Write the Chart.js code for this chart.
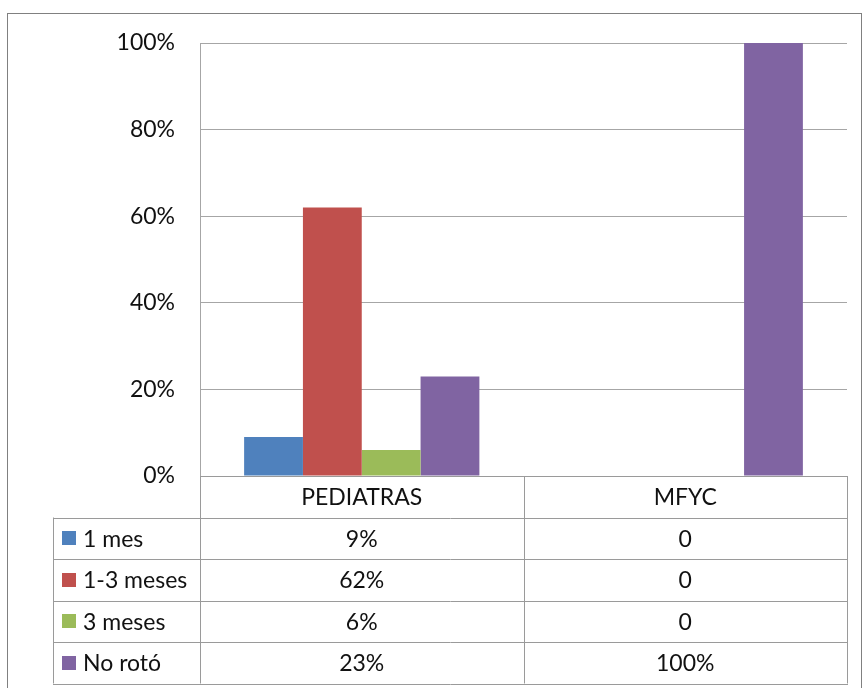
<!DOCTYPE html>
<html>
<head>
<meta charset="utf-8">
<script src="https://cdn.jsdelivr.net/npm/chart.js@4/dist/chart.umd.min.js"></script>
<style>
  html, body { margin: 0; padding: 0; background: #ffffff; }
  #wrap { width: 862px; height: 688px; position: relative; }
</style>
</head>
<body>
<div id="wrap"><canvas id="c" width="862" height="688"></canvas></div>
<script>
// Categories and series (percent values)
const categories = ['PEDIATRAS', 'MFYC'];
const seriesNames = ['1 mes', '1-3 meses', '3 meses', 'No rotó'];
const mes1 = [9, 0];
const meses1a3 = [62, 0];
const meses3 = [6, 0];
const noRoto = [23, 100];
const seriesColors = ['#4F81BD', '#C0504D', '#9BBB59', '#8064A2'];
const yTicks = [0, 20, 40, 60, 80, 100];

const seriesValues = [mes1, meses1a3, meses3, noRoto];
const FONT = 'Lato, "Open Sans", sans-serif';
const FONT_SIZE = 23;
const TEXT = '#111111';
const LINE = '#9a9a9a';

function fmt(v) { return v === 0 ? '0' : v + '%'; }

// Draws the data table (category header, legend keys and values) under the plot
const dataTable = {
  id: 'dataTable',
  afterDraw(chart) {
    const ctx = chart.ctx;
    const x = chart.scales.x;
    const area = chart.chartArea;
    const left = 53, rowH = 41.5;
    const top = area.bottom;
    const nRows = seriesNames.length;
    const colEdges = [area.left];
    categories.forEach((c, i) => {
      const half = (x.getPixelForValue(1) - x.getPixelForValue(0)) / 2;
      colEdges.push(x.getPixelForValue(i) + half);
    });
    const bottom = top + rowH * (nRows + 1);

    ctx.save();
    ctx.strokeStyle = LINE;
    ctx.lineWidth = 1;
    const h = (y, x0, x1) => { ctx.beginPath(); ctx.moveTo(x0, Math.round(y) + 0.5); ctx.lineTo(x1, Math.round(y) + 0.5); ctx.stroke(); };
    const v = (xx, y0, y1) => { ctx.beginPath(); ctx.moveTo(Math.round(xx) + 0.5, y0); ctx.lineTo(Math.round(xx) + 0.5, y1); ctx.stroke(); };

    h(top, area.left, colEdges[colEdges.length - 1]);
    for (let r = 1; r <= nRows + 1; r++) h(top + r * rowH, left, colEdges[colEdges.length - 1] + 1);
    v(left, top + rowH, bottom);
    colEdges.forEach(cx => v(cx, top, bottom));

    ctx.font = FONT_SIZE + 'px ' + FONT;
    ctx.fillStyle = TEXT;
    ctx.textBaseline = 'middle';
    ctx.textAlign = 'center';
    categories.forEach((c, i) => {
      ctx.fillText(c, x.getPixelForValue(i), top + rowH / 2 + 1);
    });
    seriesNames.forEach((name, r) => {
      const cy = top + rowH * (r + 1) + rowH / 2 + 1;
      ctx.fillStyle = seriesColors[r];
      ctx.fillRect(62, Math.round(cy - 8), 14, 14);
      ctx.fillStyle = TEXT;
      ctx.textAlign = 'left';
      ctx.fillText(name, 83, cy);
      ctx.textAlign = 'center';
      categories.forEach((c, i) => {
        ctx.fillText(fmt(seriesValues[r][i]), x.getPixelForValue(i), cy);
      });
    });

    // outer frame
    ctx.strokeStyle = '#808080';
    ctx.strokeRect(7.5, 13.5, 854, 690);
    ctx.restore();
  }
};

new Chart(document.getElementById('c'), {
  type: 'bar',
  data: {
    labels: categories,
    datasets: seriesNames.map((name, i) => ({
      label: name,
      data: seriesValues[i],
      backgroundColor: seriesColors[i],
      borderWidth: 0,
      categoryPercentage: 4 / 5.5,
      barPercentage: 1
    }))
  },
  options: {
    responsive: false,
    animation: false,
    layout: { padding: { top: 43, right: 15, bottom: 212, left: 0 } },
    plugins: { legend: { display: false }, tooltip: { enabled: false } },
    scales: {
      x: {
        display: false
      },
      y: {
        min: 0,
        max: 100,
        afterBuildTicks(scale) { scale.ticks = yTicks.map(v => ({ value: v })); },
        afterFit(scale) { scale.width = 200; },
        ticks: {
          padding: 25,
          color: TEXT,
          font: { family: FONT, size: FONT_SIZE },
          callback: v => v + '%'
        },
        grid: { color: '#a6a6a6', lineWidth: 1, drawTicks: false },
        border: { color: '#a6a6a6', width: 1 }
      }
    }
  },
  plugins: [dataTable]
});
</script>
</body>
</html>
